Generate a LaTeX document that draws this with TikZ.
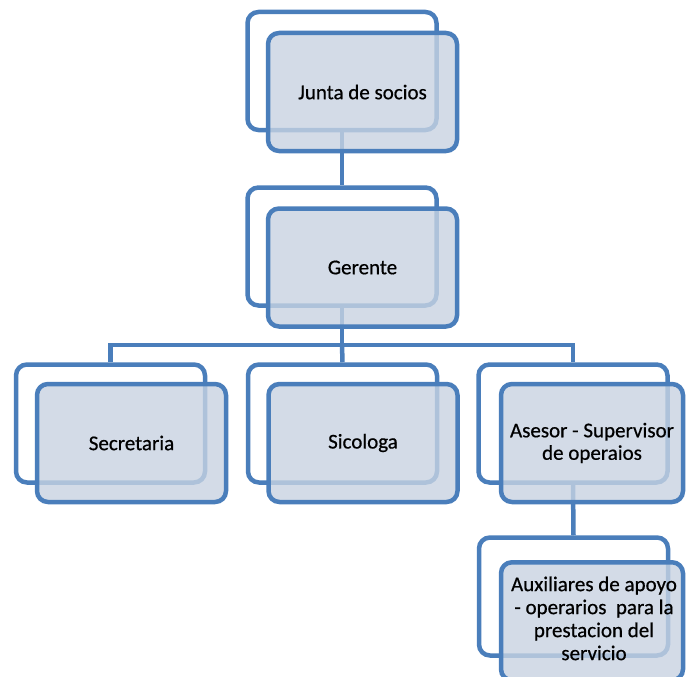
\documentclass[tikz,border=0pt]{standalone}
\usepackage{fontspec}
\setmainfont{Carlito}
\newfontfamily\cardfont{Carlito}[FakeBold=0.6]
\definecolor{boxline}{HTML}{4A7EBB}
\definecolor{boxfill}{RGB}{200,211,226}
\begin{document}
\begin{tikzpicture}[x=1pt,y=-1pt,
  card/.style={rectangle, rounded corners=11pt, line width=4.5pt, draw=boxline,
    minimum width=189pt, minimum height=118pt, inner sep=0pt},
  backcard/.style={card, fill=white},
  frontcard/.style={card, fill=boxfill, fill opacity=0.8, text opacity=1,
    align=center, font=\cardfont\fontsize{21}{22.5}\selectfont},
  link/.style={draw=boxline, line width=4.5pt}]
\clip (0,0) rectangle (686,677);
\fill[white] (0,0) rectangle (686,677);

% back cards
\node[backcard] (juntaB) at (342,71) {};
\node[backcard] (gerB) at (342,246.5) {};
\node[backcard] (secB) at (110.5,423.5) {};
\node[backcard] (sicB) at (342.5,423.5) {};
\node[backcard] (aseB) at (573,423.5) {};
\node[backcard] (auxB) at (573.5,596.5) {};

% connectors
\coordinate (bus) at (342,345);
\draw[link] (juntaB.south) -- (gerB.north);
\draw[link] (gerB.south) -- (bus);
\draw[link] (secB.north) |- (bus) -| (aseB.north);
\draw[link] (bus) -- (sicB.north);
\draw[link] (aseB.south) -- (auxB.north);

% front cards
\node[frontcard] (junta) at (362.5,92) {Junta de socios};
\node[frontcard] (ger) at (362.5,267.5) {Gerente};
\node[frontcard] (sec) at (131.5,443) {Secretaria};
\node[frontcard] (sic) at (363,443) {Sicologa};
\node[frontcard, minimum width=182pt] (ase) at (592,443) {Asesor - Supervisor\\de operaios};
\node[frontcard, minimum width=182pt, anchor=north] (aux) at (592,560) {};
\node[font=\cardfont\fontsize{21}{23}\selectfont, align=center, anchor=north]
  (auxt) at (594,573)
  {Auxiliares de apoyo\\- operarios\ \ para la\\prestacion del\\servicio};
\end{tikzpicture}
\end{document}
